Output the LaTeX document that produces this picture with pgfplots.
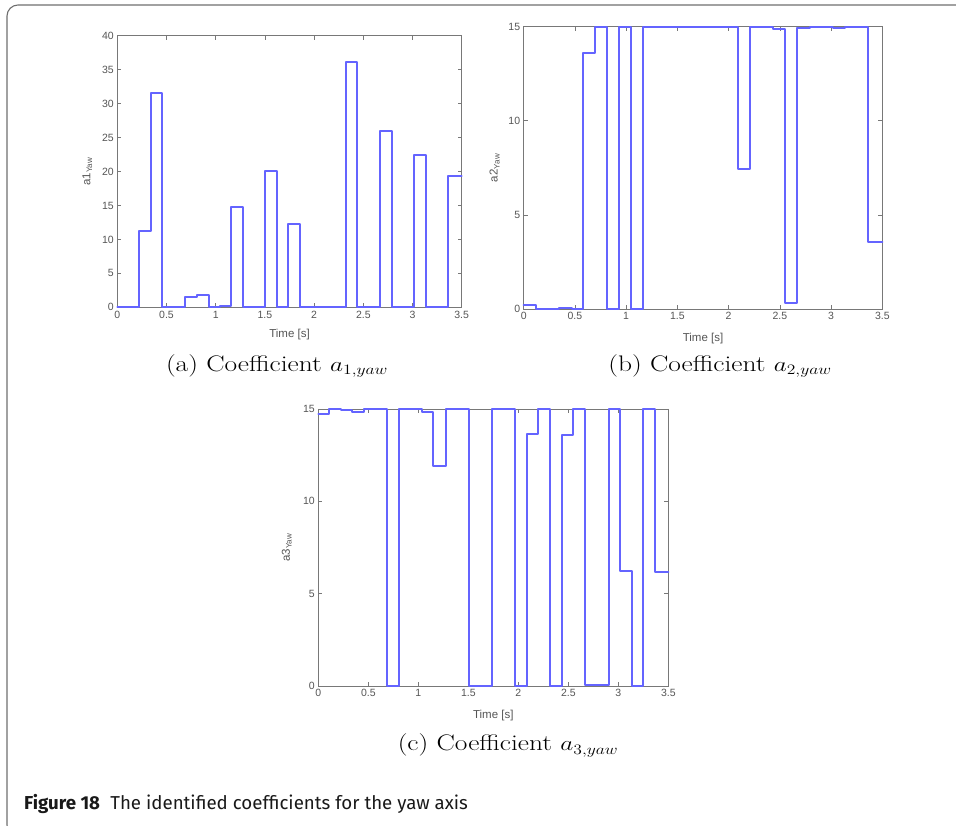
\documentclass[border=0pt]{standalone}
\usepackage{fontspec}
\usepackage{graphicx}
\usepackage{pgfplots}
\pgfplotsset{compat=1.18}
\newfontfamily\arialf{Liberation Sans}
\newfontfamily\figf{Fira Sans}
\definecolor{axgray}{RGB}{120,120,120}
\definecolor{txtgray}{RGB}{85,85,85}
\definecolor{mblue}{RGB}{100,100,255}
\definecolor{framegray}{RGB}{110,110,110}
\pgfplotsset{
 mat/.style={
  scale only axis,
  xmin=0,xmax=3.5, ymin=0,
  xtick={0,0.5,1,1.5,2,2.5,3,3.5},
  tick align=inside,
  major tick length=4pt,
  axis line style={axgray, line width=0.8pt},
  every tick/.style={axgray, line width=0.6pt},
  tick label style={font=\arialf\fontsize{10.5}{12}\selectfont, text=txtgray},
  label style={font=\arialf\fontsize{11.5}{13}\selectfont, text=txtgray},
  /pgf/number format/assume math mode=true,
  clip=false,
  xlabel={Time [s]},
 },
 stepline/.style={draw=mblue, line width=2.0pt, line cap=round, line join=round, mark=none}
}
\pgfplotstableread{
x y
0 0
0.224 0
0.224 11.3
0.339 11.3
0.339 31.5
0.458 31.5
0.458 0
0.691 0
0.691 1.5
0.807 1.5
0.807 1.85
0.928 1.85
0.928 0
1.044 0
1.044 0.2
1.155 0.2
1.155 14.7
1.278 14.7
1.278 0
1.505 0
1.505 20
1.623 20
1.623 0
1.738 0
1.738 12.2
1.857 12.2
1.857 0
2.321 0
2.321 36.1
2.436 36.1
2.436 0
2.67 0
2.67 25.9
2.789 25.9
2.789 0
3.016 0
3.016 22.5
3.134 22.5
3.134 0
3.365 0
3.365 19.3
3.5 19.3
}\dataA
\pgfplotstableread{
x y
0 0.22
0.12 0.22
0.12 0
0.348 0
0.348 0.06
0.468 0.06
0.468 0
0.582 0
0.582 13.6
0.693 13.6
0.693 15
0.813 15
0.813 0
0.934 0
0.934 15
1.047 15
1.047 0
1.165 0
1.165 15
2.088 15
2.088 7.45
2.206 7.45
2.206 15
2.437 15
2.437 14.9
2.554 14.9
2.554 0.3
2.671 0.3
2.671 14.95
2.79 14.95
2.79 15
3.016 15
3.016 14.95
3.133 14.95
3.133 15
3.364 15
3.364 3.55
3.5 3.55
}\dataB
\pgfplotstableread{
x y
0 14.75
0.11 14.75
0.11 15
0.227 15
0.227 14.95
0.34 14.95
0.34 14.82
0.46 14.82
0.46 15
0.683 15
0.683 0
0.803 0
0.803 15
1.033 15
1.033 14.82
1.15 14.82
1.15 11.9
1.273 11.9
1.273 15
1.507 15
1.507 0
1.733 0
1.733 15
1.967 15
1.967 0
2.083 0
2.083 13.65
2.2 13.65
2.2 15
2.317 15
2.317 0
2.437 0
2.437 13.6
2.55 13.6
2.55 15
2.67 15
2.67 0.03
2.903 0.03
2.903 15
3.017 15
3.017 6.2
3.133 6.2
3.133 0
3.25 0
3.25 15
3.367 15
3.367 6.15
3.5 6.15
}\dataC
\begin{document}
\begin{tikzpicture}[x=1pt,y=1pt]
\useasboundingbox (0,0) rectangle (956,826);
\begin{scope}
\clip (0,0) rectangle (956,826);
\draw[framegray, line width=1.1pt, rounded corners=11pt] (7,821) rectangle (990,-10);
\end{scope}

% panel (a)
\begin{axis}[mat, at={(117.3pt,518.7pt)}, anchor=south west,
  width=344.4pt, height=271.6pt, ymax=40, ytick={0,5,...,40},
  ylabel={a1\textsubscript{Yaw}},
  ylabel style={at={(axis description cs:-0.087,0.5)}, anchor=center},
  xlabel style={at={(axis description cs:0.5,-0.102)}, anchor=center}]
\addplot[stepline] table[x=x,y=y] {\dataA};
\end{axis}

% panel (b)
\begin{axis}[mat, at={(523.7pt,517pt)}, anchor=south west,
  width=358.6pt, height=282.3pt, ymax=15, ytick={0,5,10,15},
  ylabel={a2\textsubscript{Yaw}},
  ylabel style={at={(axis description cs:-0.081,0.5)}, anchor=center},
  xlabel style={at={(axis description cs:0.5,-0.103)}, anchor=center}]
\addplot[stepline] table[x=x,y=y] {\dataB};
\end{axis}

% panel (c)
\begin{axis}[mat, at={(318.3pt,140pt)}, anchor=south west,
  width=350pt, height=277pt, ymax=15, ytick={0,5,10,15},
  ylabel={a3\textsubscript{Yaw}},
  ylabel style={at={(axis description cs:-0.09,0.5)}, anchor=center},
  xlabel style={at={(axis description cs:0.5,-0.105)}, anchor=center}]
\addplot[stepline] table[x=x,y=y] {\dataC};
\end{axis}

% sub-captions
\node[anchor=base, inner sep=0pt] at (277,454.3) {\scalebox{1.22}[1]{\fontsize{22.5}{26}\selectfont (a) Coefficient $a_{1,yaw}$}};
\node[anchor=base, inner sep=0pt] at (720,454.3) {\scalebox{1.22}[1]{\fontsize{22.5}{26}\selectfont (b) Coefficient $a_{2,yaw}$}};
\node[anchor=base, inner sep=0pt] at (508,75) {\scalebox{1.22}[1]{\fontsize{22.5}{26}\selectfont (c) Coefficient $a_{3,yaw}$}};
% figure caption
\node[anchor=base west, inner sep=0pt, text=black!90, font=\figf\fontsize{18.7}{21}\selectfont] at (24,16)
  {\textbf{Figure 18}\hspace{0.55em}The identified coefficients for the yaw axis};
\end{tikzpicture}
\end{document}
